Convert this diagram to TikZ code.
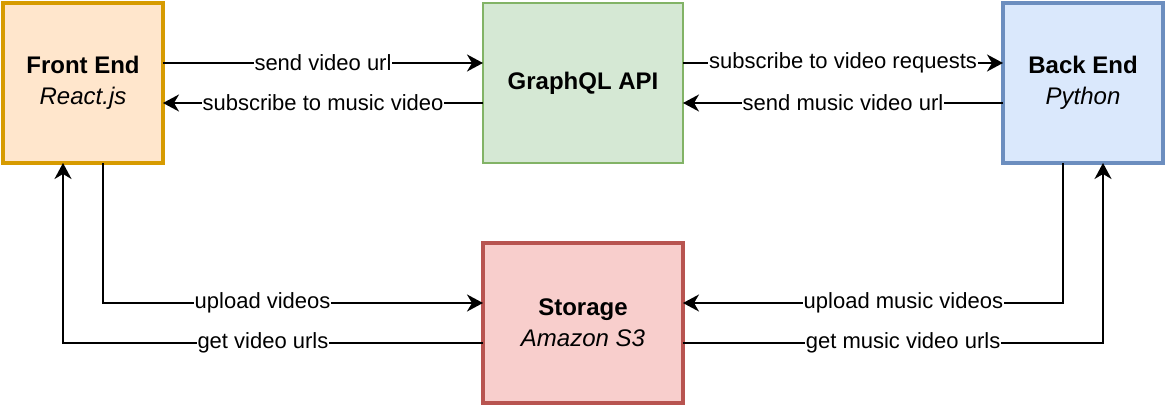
\documentclass[tikz,border=0pt]{standalone}
\usepackage{fontspec}
\setmainfont{Liberation Sans}
\usetikzlibrary{arrows.meta}

\definecolor{feFill}{HTML}{FFE6CC}
\definecolor{feLine}{HTML}{D79B00}
\definecolor{apiFill}{HTML}{D5E8D4}
\definecolor{apiLine}{HTML}{82B366}
\definecolor{beFill}{HTML}{DAE8FC}
\definecolor{beLine}{HTML}{6C8EBF}
\definecolor{stFill}{HTML}{F8CECC}
\definecolor{stLine}{HTML}{B85450}

\tikzset{
  box/.style={draw, rectangle, inner sep=0pt, outer sep=0pt, line width=2pt,
    minimum width=80pt, minimum height=80pt, align=center,
    font=\fontsize{12}{15.5}\selectfont},
  link/.style={-{Stealth[length=8pt,width=8.5pt,inset=2.5pt]}, line width=1pt},
  lbl/.style={fill=white, inner sep=0.5pt, font=\fontsize{11}{13}\selectfont}
}

\begin{document}
\begin{tikzpicture}[x=0.5pt, y=-0.5pt]
\useasboundingbox (0,0) rectangle (1166,406);

% components
\node[box, fill=feFill, draw=feLine] (front) at (83,83) {\textbf{Front End}\\\textit{React.js}};
\node[box, fill=apiFill, draw=apiLine, line width=1pt, minimum width=100pt] (api) at (583,83) {\textbf{GraphQL API}};
\node[box, fill=beFill, draw=beLine] (back) at (1083,83) {\textbf{Back End}\\\textit{Python}};
\node[box, fill=stFill, draw=stLine, minimum width=100pt] (store) at (583,323) {\textbf{Storage}\\\textit{Amazon S3}};

% top links
\draw[link] ([yshift=10pt]front.east) -- node[lbl] {send video url} ([yshift=10pt]api.west);
\draw[link] ([yshift=-10pt]api.west) -- node[lbl] {subscribe to music video} ([yshift=-10pt]front.east);
\draw[link] ([yshift=10pt]api.east) -- node[lbl] {subscribe to video requests} ([yshift=10pt]back.west);
\draw[link] ([yshift=-10pt]back.west) -- node[lbl] {send music video url} ([yshift=-10pt]api.east);

% storage links
\draw[link] ([xshift=10pt]front.south) |- node[lbl, pos=0.71] {upload videos} ([yshift=10pt]store.west);
\draw[link] ([yshift=-10pt]store.west) -| node[lbl, pos=0.262] {get video urls} ([xshift=-10pt]front.south);
\draw[link] ([xshift=-10pt]back.south) |- node[lbl, pos=0.71] {upload music videos} ([yshift=10pt]store.east);
\draw[link] ([yshift=-10pt]store.east) -| node[lbl, pos=0.262] {get music video urls} ([xshift=10pt]back.south);
\end{tikzpicture}
\end{document}
